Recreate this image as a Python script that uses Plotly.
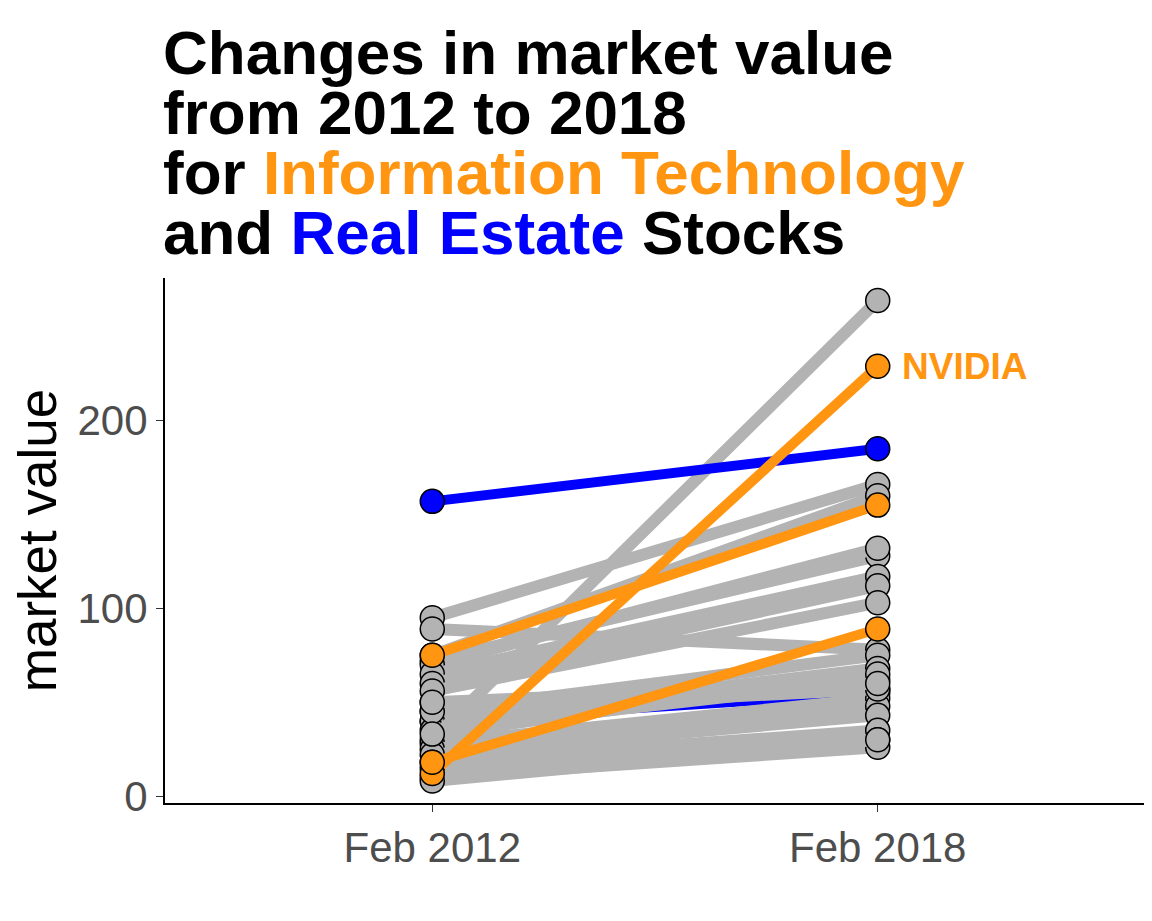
import plotly.graph_objects as go

x_labels = ["Feb 2012", "Feb 2018"]
grey_2012 = [95, 89, 75, 72, 70, 65, 60, 56, 45, 40, 35, 30, 28, 25, 22, 18, 15, 10, 8, 45, 33, 50]
grey_2018 = [166, 78, 160, 128, 132, 117, 112, 103, 75, 68, 62, 264, 52, 48, 43, 35, 30, 26, 30, 57, 65, 60]
it_2012 = [12, 18, 75]
it_2018 = [229, 89, 155]
re_2012 = [157, 50, 40]
re_2018 = [185, 57, 55]

fig = go.Figure()
xs = [0, 1]
def add(v0, v1, color, lw):
    fig.add_trace(go.Scatter(x=xs, y=[v0, v1], mode="lines+markers",
        line=dict(color=color, width=lw),
        marker=dict(size=24, color=color, line=dict(color="black", width=1.5)),
        showlegend=False, hoverinfo="skip"))
for a, b in zip(re_2012[1:], re_2018[1:]):
    add(a, b, "#0000FF", 10)
for a, b in zip(grey_2012, grey_2018):
    add(a, b, "#B3B3B3", 12)
add(re_2012[0], re_2018[0], "#0000FF", 10)
for a, b in zip(it_2012, it_2018):
    add(a, b, "#FF9510", 10)

fig.add_annotation(x=1, y=it_2018[0], text="<b>NVIDIA</b>", xanchor="left", xshift=22,
                   showarrow=False, font=dict(size=37, color="#FF9510", family="Liberation Sans"))

title_lines = ["<b>Changes in market value</b>",
               "<b>from 2012 to 2018</b>",
               "<b>for <span style='color:#FF9510'>Information Technology</span></b>",
               "<b>and <span style='color:#0000FF'>Real Estate</span> Stocks</b>"]
for i, t in enumerate(title_lines):
    fig.add_annotation(xref="paper", yref="paper", x=0, y=1, xanchor="left", yanchor="top",
                       yshift=262 - 60 * i, xshift=-4,
                       text=t, showarrow=False, align="left",
                       font=dict(size=62, color="black", family="Liberation Sans"))

fig.update_layout(
    width=1152, height=921, plot_bgcolor="white", paper_bgcolor="white",
    margin=dict(l=157, r=15, t=270, b=126),
    font=dict(family="Liberation Sans"),
    xaxis=dict(range=[-0.6, 1.6], tickvals=xs, ticktext=x_labels, showgrid=False, zeroline=False,
               showline=True, linecolor="black", linewidth=2, ticks="outside", ticklen=7,
               tickcolor="#333", tickfont=dict(size=42, color="#4D4D4D")),
    yaxis=dict(range=[-3.7, 276], tickvals=[0, 100, 200], showgrid=False, zeroline=False,
               showline=True, linecolor="black", linewidth=2, ticks="outside", ticklen=7,
               tickcolor="#333", tickfont=dict(size=42, color="#4D4D4D"),
               title=dict(text="market value", font=dict(size=53, color="black"), standoff=10)),
)
fig.write_html("out.html")
